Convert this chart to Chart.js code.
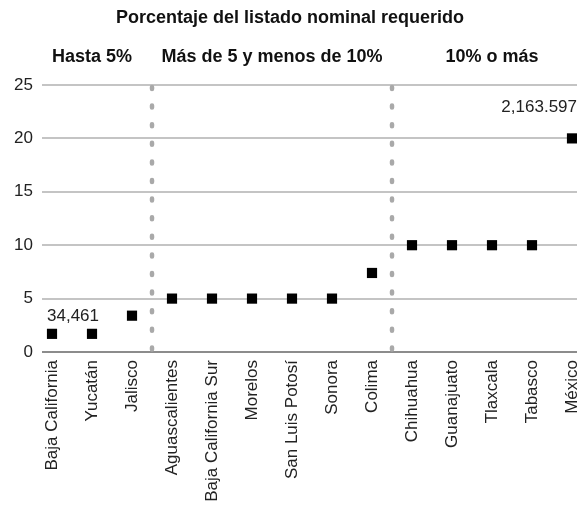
<!DOCTYPE html>
<html>
<head>
<meta charset="utf-8">
<script src="https://cdn.jsdelivr.net/npm/chart.js@4"></script>
<style>
  body { margin:0; background:#fff; }
  canvas { display:block; }
</style>
</head>
<body>
<canvas id="chart" width="577" height="513"></canvas>
<script>
// data
const estados = ['Baja California','Yucatán','Jalisco','Aguascalientes','Baja California Sur','Morelos',
  'San Luis Potosí','Sonora','Colima','Chihuahua','Guanajuato','Tlaxcala','Tabasco','México'];
const porcentaje = [1.7, 1.7, 3.4, 5, 5, 5, 5, 5, 7.4, 10, 10, 10, 10, 20];
const grupos = ['Hasta 5%', 'Más de 5 y menos de 10%', '10% o más'];
const grupoRango = [[0, 2], [3, 8], [9, 13]];
const notas = [{ i: 0, texto: '34,461' }, { i: 13, texto: '2,163.597' }];
const yTicks = [0, 5, 10, 15, 20, 25];
const titulo = 'Porcentaje del listado nominal requerido';

const FONT = '"Liberation Sans", Arial, Helvetica, sans-serif';

const extras = {
  id: 'extras',
  beforeDatasetsDraw(chart){
    const {ctx, chartArea:a, scales:{x}} = chart;
    ctx.save();
    ctx.strokeStyle = '#a9a9a9';
    ctx.lineWidth = 4.5;
    ctx.lineCap = 'round';
    ctx.setLineDash([2, 16.6]);
    for(let g=0; g<grupoRango.length-1; g++){
      const px = Math.round(x.getPixelForValue((grupoRango[g][1] + grupoRango[g+1][0]) / 2));
      ctx.beginPath();
      ctx.moveTo(px, a.top + 2);
      ctx.lineTo(px, a.bottom);
      ctx.stroke();
    }
    ctx.restore();
  },
  afterDraw(chart){
    const {ctx, scales:{x, y}} = chart;
    ctx.save();
    ctx.fillStyle = '#111';
    ctx.textBaseline = 'middle';
    ctx.textAlign = 'center';
    ctx.font = 'bold 18px ' + FONT;
    ctx.fillText(titulo, 290, 18);
    grupos.forEach((g, k)=>{
      const c = (grupoRango[k][0] + grupoRango[k][1]) / 2;
      ctx.fillText(g, x.getPixelForValue(c), 57);
    });
    ctx.font = '17px ' + FONT;
    ctx.fillStyle = '#222';
    notas.forEach(n=>{
      const px = x.getPixelForValue(n.i), py = y.getPixelForValue(porcentaje[n.i]);
      if(n.i === 0){ ctx.textAlign = 'left'; ctx.fillText(n.texto, px - 5, py - 18); }
      else { ctx.textAlign = 'right'; ctx.fillText(n.texto, px + 5, py - 31); }
    });
    ctx.restore();
  }
};

new Chart(document.getElementById('chart'), {
  type: 'scatter',
  data: {
    datasets: [{
      data: porcentaje.map((v, i)=>({ x: i, y: v })),
      pointStyle: 'rect',
      pointRadius: 7.2,
      pointHoverRadius: 7.2,
      backgroundColor: '#000',
      borderWidth: 0,
      clip: false
    }]
  },
  options: {
    responsive: false,
    animation: false,
    layout: { autoPadding: false, padding: { top: 85, left: 0, right: 0, bottom: 0 } },
    plugins: { legend: { display: false }, tooltip: { enabled: false } },
    scales: {
      x: {
        type: 'linear',
        min: -0.25,
        max: 13.125,
        afterBuildTicks: s => { s.ticks = estados.map((_, i)=>({ value: i })); },
        afterFit: s => { s.height = 161; s.paddingLeft = 0; s.paddingRight = 0; },
        grid: { display: false, drawTicks: false },
        border: { display: false },
        ticks: {
          autoSkip: false,
          minRotation: 90,
          maxRotation: 90,
          padding: 8,
          color: '#222',
          font: { family: FONT, size: 17 },
          callback: v => estados[v] ?? ''
        }
      },
      y: {
        min: 0,
        max: 25,
        afterBuildTicks: s => { s.ticks = yTicks.map(v=>({ value: v })); },
        afterFit: s => { s.width = 42; s.paddingTop = 0; s.paddingBottom = 0; },
        border: { display: false },
        grid: {
          drawTicks: false,
          lineWidth: 2,
          color: c => c.tick && c.tick.value === 0 ? '#8c8c8c' : '#c4c4c4'
        },
        ticks: {
          padding: 9,
          color: '#222',
          font: { family: FONT, size: 17 }
        }
      }
    }
  },
  plugins: [extras]
});
</script>
</body>
</html>
